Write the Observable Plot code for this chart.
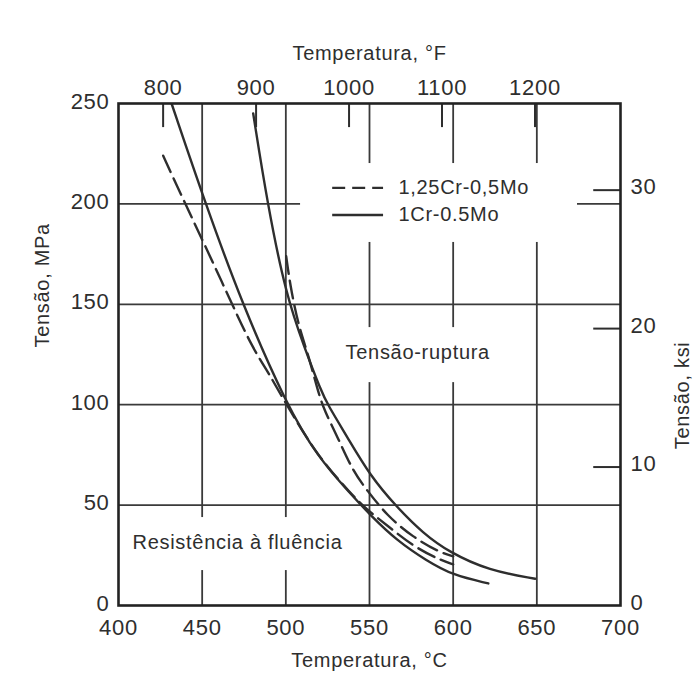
<!DOCTYPE html>
<html>
<head>
<meta charset="utf-8">
<script src="https://cdn.jsdelivr.net/npm/d3@7"></script>
<script src="https://cdn.jsdelivr.net/npm/@observablehq/plot@0.6"></script>
<style>
  html, body { margin: 0; padding: 0; background: #fff; }
  svg text { letter-spacing: 0.7px; }
</style>
</head>
<body>
<div id="chart"></div>
<script>
// ---- tick labels / scales ----
const xTicksC = [400, 450, 500, 550, 600, 650, 700];      // °C (bottom)
const yTicksMPa = [0, 50, 100, 150, 200, 250];          // MPa (left)
const fTicks = [800, 900, 1000, 1100, 1200];            // °F (top)
const ksiTicks = [0, 10, 20, 30];                       // ksi (right)
const vGrid = [450, 500, 550, 600, 650];
const hGrid = [50, 100, 150, 200];

// ---- series names ----
const seriesNames = ["1,25Cr-0,5Mo", "1Cr-0.5Mo"];
const regionLabels = ["Tensão-ruptura", "Resistência à fluência"];

// ---- curves: [temperature °C, stress MPa] ----
// creep strength (Resistência à fluência)
const creepSolid = [
  [431.7, 250], [452, 200], [474, 150], [500.4, 100], [519, 74],
  [538.7, 55.6], [550.5, 45], [566.3, 32.4], [584, 22.4], [600, 15], [621, 11]
];
const creepDashed = [
  [426.7, 224], [438.5, 202.5], [451.3, 180], [466, 153.5], [479.8, 128.6],
  [489.6, 116], [500.4, 100], [519, 74.3], [538.7, 55.9],
  [548, 48], [560.4, 40], [576, 29.5], [591.8, 22.8], [600, 20.5]
];
// rupture stress (Tensão-ruptura)
const ruptSolid = [
  [480.5, 245], [489, 200], [500, 155], [511, 128.6], [521, 107], [525, 100],
  [536.8, 83.8], [550.5, 64.5], [566.3, 49], [582, 36], [597.7, 26.5],
  [621.3, 17.4], [649, 13.3]
];
const ruptDashed = [
  [500.2, 174], [502.5, 160], [507.3, 140], [513.2, 125.4], [519.1, 107],
  [523, 97], [531, 83.8], [540, 67], [548.6, 57.3], [560.4, 44.8],
  [576, 34], [591.8, 26.5], [600, 24.5]
];

const F2C = f => (f - 32) * 5 / 9;
const KSI2MPA = k => k * 6.895;

const ink = "#2e2e2e";
const dash = "18,7";
const font = "Liberation Sans, Arial, sans-serif";

const lineOpts = (dashed) => ({
  x: d => d[0], y: d => d[1], stroke: ink, strokeWidth: 2.4,
  curve: "basis", clip: true,
  strokeDasharray: dashed ? dash : null
});

const chart = Plot.plot({
  width: 700,
  height: 680,
  marginLeft: 118,
  marginRight: 80,
  marginTop: 103,
  marginBottom: 75,
  x: { domain: [400, 700] },
  y: { domain: [0, 250] },
  style: { fontFamily: font, color: ink, background: "white", overflow: "visible" },
  marks: [
    // grid
    Plot.ruleX(vGrid, { stroke: "#3a3a3a", strokeWidth: 1.8 }),
    Plot.ruleY(hGrid, { stroke: "#3a3a3a", strokeWidth: 1.8 }),
    // white backgrounds behind the legend and the region labels
    Plot.rect([0], { x1: 508.8, x2: 674.3, y1: 180.8, y2: 220.1, fill: "white" }),
    Plot.rect([0], { x1: 532, x2: 632, y1: 111, y2: 138.4, fill: "white" }),
    Plot.rect([0], { x1: 404, x2: 545, y1: 17.4, y2: 43.8, fill: "white" }),

    // top °F ticks (inward) and labels
    Plot.ruleX(fTicks, { x: F2C, y1: 250, y2: 238, stroke: ink, strokeWidth: 2 }),
    Plot.text(fTicks, {
      x: F2C, text: d => String(d), frameAnchor: "top", lineAnchor: "bottom",
      dy: -9, fontSize: 22, fill: ink
    }),
    // right ksi ticks (inward) and labels
    Plot.ruleY(ksiTicks.filter(k => k > 0), {
      y: KSI2MPA, x1: 684, x2: 700, stroke: ink, strokeWidth: 2
    }),
    Plot.text(ksiTicks, {
      y: KSI2MPA, text: d => String(d), frameAnchor: "right", textAnchor: "start",
      dx: 10, dy: -3, fontSize: 22, fill: ink
    }),

    // bottom / left axes
    Plot.axisX({ ticks: xTicksC, tickSize: 0, tickPadding: 14, fontSize: 22, label: null, fill: ink }),
    Plot.axisY({ ticks: yTicksMPa, tickSize: 0, tickPadding: 9, fontSize: 22, label: null, fill: ink, dy: -2 }),

    // curves
    Plot.line(creepDashed, lineOpts(true)),
    Plot.line(creepSolid, lineOpts(false)),
    Plot.line(ruptDashed, lineOpts(true)),
    Plot.line(ruptSolid, lineOpts(false)),

    // legend
    Plot.ruleY([seriesNames[0]], {
      y: () => 208, x1: 528, x2: 558.4, stroke: ink, strokeWidth: 2.4, strokeDasharray: "13,7"
    }),
    Plot.ruleY([seriesNames[1]], {
      y: () => 194.5, x1: 528, x2: 558.4, stroke: ink, strokeWidth: 2.4
    }),
    Plot.text(seriesNames, {
      x: 567.3, y: (d, i) => 208 - i * 13.5, text: d => d, textAnchor: "start",
      fontSize: 20, fill: ink
    }),

    // region labels
    Plot.text([regionLabels[0]], { x: 535.7, y: 126, text: d => d, textAnchor: "start", fontSize: 20, fill: ink }),
    Plot.text([regionLabels[1]], { x: 408.4, y: 31.4, text: d => d, textAnchor: "start", fontSize: 20, fill: ink }),

    // axis titles
    Plot.text(["Temperatura, °F"], { text: d => d, frameAnchor: "top", dy: -58, fontSize: 20, fill: ink }),
    Plot.text(["Temperatura, °C"], { text: d => d, frameAnchor: "bottom", dy: 61, fontSize: 20, fill: ink }),
    Plot.text(["Tensão, MPa"], { text: d => d, frameAnchor: "left", rotate: -90, dx: -76, dy: -7, fontSize: 20, fill: ink }),
    Plot.text(["Tensão, ksi"], { text: d => d, frameAnchor: "right", rotate: -90, dx: 62, dy: -13, fontSize: 20, fill: ink }),

    Plot.frame({ stroke: "#222", strokeWidth: 2.6 })
  ]
});

document.getElementById("chart").appendChild(chart);
</script>
</body>
</html>
